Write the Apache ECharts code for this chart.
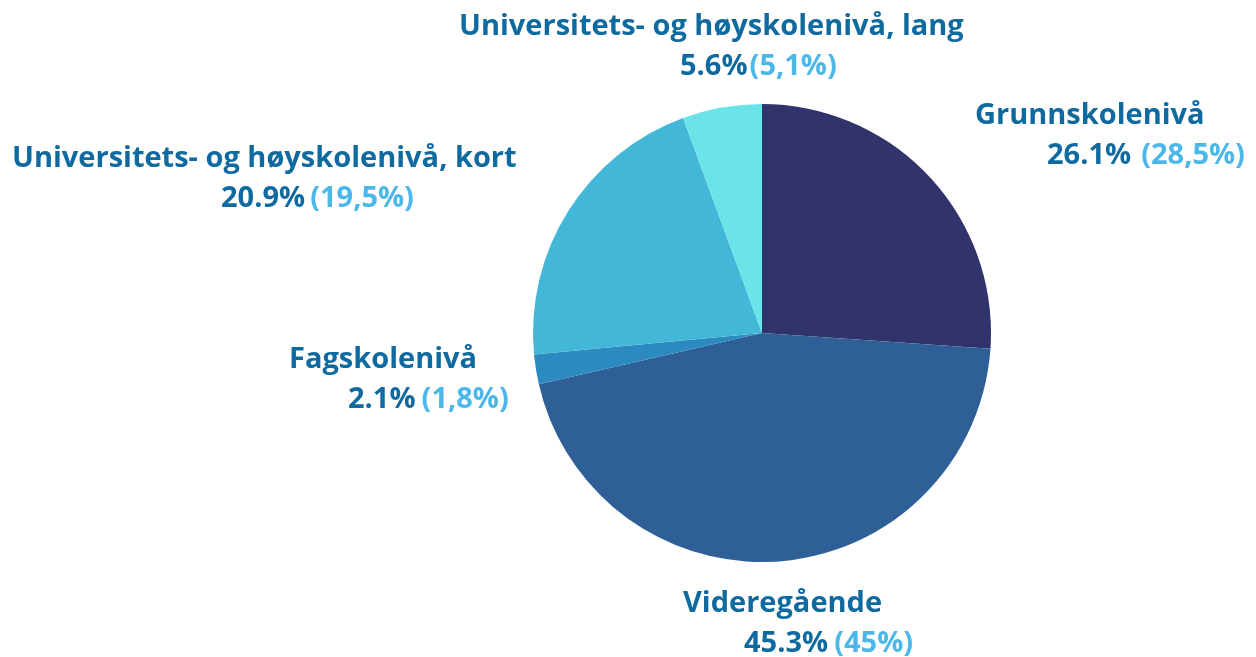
<!DOCTYPE html>
<html>
<head>
<meta charset="utf-8">
<script src="https://cdn.jsdelivr.net/npm/echarts@6/dist/echarts.min.js"></script>
<style>
html,body{margin:0;padding:0;background:#fff;}
#c{width:1256px;height:657px;}
</style>
</head>
<body>
<div id="c"></div>
<script>
const categories = ['Grunnskolenivå', 'Videregående', 'Fagskolenivå', 'Universitets- og høyskolenivå, kort', 'Universitets- og høyskolenivå, lang'];
const values = [26.1, 45.3, 2.1, 20.9, 5.6];
const previous = ['(28,5%)', '(45%)', '(1,8%)', '(19,5%)', '(5,1%)'];

const colors = ['#31346B', '#2E5F97', '#2B8ABF', '#43B7D7', '#6BE4E9'];
// label layout: [x, y, line-2 indent, gap before parenthesis]
const labelPos = [
  [975, 96, 72, 10],
  [683, 584, 61, 6],
  [289, 340, 59, 6],
  [12, 139, 209, 5],
  [459, 7, 221, 2]
];

const chart = echarts.init(document.getElementById('c'));
chart.setOption({
  animation: false,
  series: [{
    type: 'pie',
    center: [762, 333],
    radius: [0, 229],
    startAngle: 90,
    clockwise: true,
    color: colors,
    itemStyle: { borderWidth: 0 },
    labelLine: { show: false },
    label: {
      show: true,
      position: 'outside',
      fontFamily: 'Open Sans',
      formatter: function (p) {
        return '{n|' + p.name + '}\n{v' + p.dataIndex + '|' + values[p.dataIndex].toFixed(1) + '%}{p' + p.dataIndex + '|' + previous[p.dataIndex] + '}';
      },
      rich: (function () {
        const r = {
          n: { fontFamily: 'Open Sans', fontWeight: 'bold', fontSize: 29, color: '#0F6A9F', lineHeight: 40 }
        };
        labelPos.forEach(function (lp, i) {
          r['v' + i] = { fontFamily: 'Open Sans', fontWeight: 'bold', fontSize: 29, color: '#0F6A9F', lineHeight: 40, padding: [0, 0, 0, lp[2]] };
          r['p' + i] = { fontFamily: 'Open Sans', fontWeight: 'bold', fontSize: 29, color: '#4CB8E9', lineHeight: 40, padding: [0, 0, 0, lp[3]] };
        });
        return r;
      })()
    },
    labelLayout: function (params) {
      const lp = labelPos[params.dataIndex];
      return { x: lp[0], y: lp[1], align: 'left', verticalAlign: 'top' };
    },
    data: categories.map(function (c, i) { return { name: c, value: values[i] }; })
  }]
});
</script>
</body>
</html>
